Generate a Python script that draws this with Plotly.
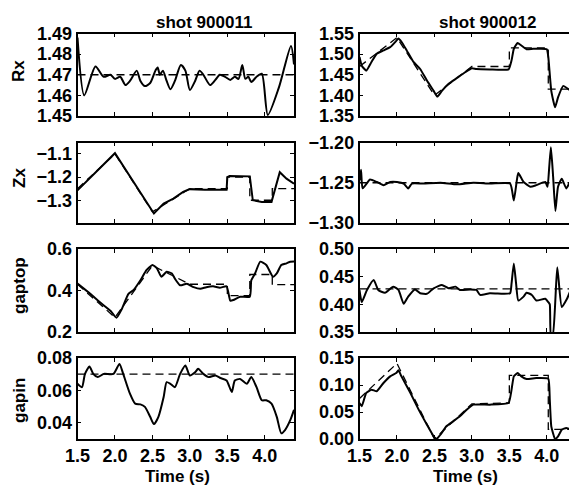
import plotly.graph_objects as go

# ---------------- shot 900011 ----------------
t_rx_a = [1.50, 1.59, 1.74, 1.85, 1.94, 2.00, 2.07, 2.14, 2.20, 2.29, 2.34, 2.40, 2.47, 2.54, 2.57, 2.60,
          2.64, 2.69, 2.74, 2.80, 2.88, 2.94, 3.00, 3.07, 3.13, 3.18, 3.27, 3.34, 3.40, 3.47, 3.54, 3.60,
          3.65, 3.70, 3.74, 3.78, 3.82, 3.89, 3.96, 4.04, 4.19, 4.35, 4.39]
rx_a = [1.488, 1.460, 1.474, 1.469, 1.470, 1.468, 1.469, 1.465, 1.467, 1.472, 1.467, 1.4645, 1.466, 1.472,
        1.4735, 1.470, 1.472, 1.467, 1.463, 1.467, 1.4747, 1.472, 1.4626, 1.467, 1.472, 1.470, 1.465, 1.4675,
        1.470, 1.469, 1.4675, 1.469, 1.468, 1.4747, 1.468, 1.469, 1.4665, 1.469, 1.4705, 1.4505, 1.464, 1.484,
        1.475]
t_rxref_a = [1.5, 4.39]
rxref_a = [1.47, 1.47]

t_zx_a = [1.50, 2.00, 2.52, 2.65, 2.78, 2.91, 3.00, 3.20, 3.49, 3.50, 3.53, 3.80, 3.84, 3.96, 4.09, 4.20,
          4.29, 4.39]
zx_a = [-1.257, -1.097, -1.357, -1.314, -1.293, -1.264, -1.252, -1.255, -1.255, -1.200, -1.195, -1.197,
        -1.300, -1.307, -1.307, -1.179, -1.207, -1.229]
t_zxref_a = [1.5, 2.0, 2.5, 3.0, 3.5, 3.5, 3.8, 3.8, 4.1, 4.1, 4.39]
zxref_a = [-1.25, -1.10, -1.35, -1.25, -1.25, -1.20, -1.20, -1.30, -1.30, -1.25, -1.25]

t_gt_a = [1.50, 1.67, 1.80, 1.94, 2.02, 2.09, 2.18, 2.25, 2.34, 2.42, 2.50, 2.56, 2.62, 2.69, 2.76, 2.80,
          2.87, 2.96, 3.05, 3.14, 3.22, 3.31, 3.40, 3.49, 3.54, 3.58, 3.67, 3.80, 3.82, 3.87, 3.94, 4.02,
          4.11, 4.16, 4.22, 4.29, 4.34, 4.39]
gt_a = [0.433, 0.384, 0.343, 0.302, 0.269, 0.310, 0.384, 0.403, 0.449, 0.498, 0.523, 0.507, 0.466, 0.490,
        0.482, 0.457, 0.425, 0.433, 0.416, 0.408, 0.416, 0.420, 0.413, 0.420, 0.351, 0.354, 0.370, 0.370,
        0.449, 0.482, 0.539, 0.523, 0.466, 0.482, 0.523, 0.531, 0.539, 0.540]
t_gtref_a = [1.5, 2.0, 2.5, 3.0, 3.5, 3.5, 3.8, 3.8, 4.1, 4.1, 4.39]
gtref_a = [0.43, 0.27, 0.52, 0.43, 0.43, 0.375, 0.375, 0.477, 0.477, 0.428, 0.428]

t_gi_a = [1.50, 1.56, 1.60, 1.66, 1.71, 1.77, 1.85, 1.98, 2.06, 2.11, 2.20, 2.27, 2.34, 2.40, 2.47, 2.52,
          2.58, 2.65, 2.69, 2.74, 2.80, 2.87, 2.94, 3.00, 3.07, 3.11, 3.18, 3.25, 3.34, 3.40, 3.49, 3.56,
          3.60, 3.67, 3.76, 3.82, 3.89, 3.96, 4.02, 4.09, 4.16, 4.22, 4.27, 4.34, 4.39]
gi_a = [0.0641, 0.0620, 0.0702, 0.0747, 0.0702, 0.0682, 0.0702, 0.0702, 0.0763, 0.0702, 0.0580, 0.0518,
        0.0514, 0.0498, 0.0437, 0.0392, 0.0437, 0.0559, 0.0651, 0.0641, 0.0620, 0.0702, 0.0753, 0.0692,
        0.0712, 0.0733, 0.0702, 0.0682, 0.0692, 0.0678, 0.0661, 0.0590, 0.0661, 0.0671, 0.0641, 0.0682,
        0.0620, 0.0539, 0.0539, 0.0518, 0.0437, 0.0335, 0.0355, 0.0416, 0.048]
t_giref_a = [1.5, 4.39]
giref_a = [0.07, 0.07]

# ---------------- shot 900012 ----------------
t_rx_b = [1.50, 1.53, 1.59, 1.66, 1.73, 1.82, 1.91, 1.99, 2.02, 2.06, 2.13, 2.22, 2.31, 2.40, 2.49, 2.54,
          2.60, 2.69, 2.80, 2.91, 3.00, 3.06, 3.24, 3.49, 3.53, 3.56, 3.61, 3.66, 3.73, 3.82, 4.00, 4.02,
          4.06, 4.11, 4.15, 4.22, 4.29, 4.35, 4.39]
rx_b = [1.493, 1.472, 1.460, 1.481, 1.501, 1.509, 1.517, 1.532, 1.538, 1.530, 1.509, 1.481, 1.464, 1.436,
        1.411, 1.397, 1.411, 1.428, 1.442, 1.456, 1.466, 1.464, 1.463, 1.463, 1.485, 1.513, 1.527, 1.521,
        1.512, 1.513, 1.512, 1.493, 1.411, 1.371, 1.395, 1.423, 1.415, 1.407, 1.411]
t_rxref_b = [1.5, 2.0, 2.5, 3.0, 3.5, 3.5, 4.02, 4.02, 4.39]
rxref_b = [1.47, 1.54, 1.40, 1.47, 1.47, 1.515, 1.515, 1.415, 1.415]

t_zx_b = [1.50, 1.52, 1.54, 1.58, 1.64, 1.73, 1.82, 1.91, 2.00, 2.09, 2.15, 2.20, 2.35, 2.58, 2.80, 3.02,
          3.24, 3.51, 3.56, 3.60, 3.62, 3.69, 3.78, 3.86, 3.98, 4.01, 4.03, 4.055, 4.085, 4.115, 4.15,
          4.20, 4.26, 4.31, 4.36, 4.39]
zx_b = [-1.247, -1.234, -1.257, -1.253, -1.246, -1.249, -1.253, -1.249, -1.249, -1.251, -1.257, -1.251,
        -1.251, -1.250, -1.252, -1.250, -1.251, -1.251, -1.272, -1.247, -1.238, -1.249, -1.255, -1.253,
        -1.249, -1.255, -1.234, -1.206, -1.243, -1.285, -1.255, -1.245, -1.257, -1.249, -1.243, -1.247]
t_zxref_b = [1.5, 4.39]
zxref_b = [-1.25, -1.25]

t_gt_b = [1.50, 1.53, 1.60, 1.69, 1.75, 1.84, 1.95, 2.02, 2.09, 2.15, 2.24, 2.31, 2.40, 2.49, 2.60, 2.69,
          2.78, 2.84, 2.98, 3.06, 3.11, 3.24, 3.42, 3.51, 3.53, 3.56, 3.59, 3.62, 3.69, 3.73, 3.80, 3.86,
          3.98, 4.02, 4.04, 4.055, 4.08, 4.14, 4.20, 4.27, 4.33, 4.39]
gt_b = [0.426, 0.404, 0.426, 0.444, 0.426, 0.421, 0.432, 0.426, 0.401, 0.414, 0.427, 0.420, 0.419, 0.429,
        0.435, 0.429, 0.432, 0.426, 0.427, 0.426, 0.417, 0.420, 0.419, 0.420, 0.438, 0.474, 0.438, 0.407,
        0.414, 0.421, 0.417, 0.407, 0.410, 0.404, 0.400, 0.345, 0.345, 0.467, 0.395, 0.410, 0.428, 0.432]
t_gtref_b = [1.5, 4.39]
gtref_b = [0.428, 0.428]

t_gi_b = [1.50, 1.53, 1.59, 1.66, 1.73, 1.82, 1.91, 1.99, 2.02, 2.06, 2.18, 2.29, 2.40, 2.49, 2.53, 2.58,
          2.66, 2.75, 2.84, 2.93, 3.02, 3.24, 3.49, 3.53, 3.56, 3.61, 3.66, 3.73, 3.86, 4.02, 4.04, 4.06,
          4.11, 4.15, 4.20, 4.26, 4.33, 4.39]
gi_b = [0.0667, 0.0605, 0.0852, 0.0914, 0.0883, 0.1037, 0.116, 0.1222, 0.1272, 0.116, 0.0852, 0.0543,
        0.0265, 0.0049, 0.0, 0.008, 0.0235, 0.0327, 0.042, 0.0543, 0.0636, 0.0636, 0.0667, 0.0914, 0.116,
        0.1222, 0.116, 0.1111, 0.113, 0.1117, 0.0728, 0.0235, 0.0, 0.0049, 0.0173, 0.0204, 0.0173, 0.0185]
t_giref_b = [1.5, 2.0, 2.5, 3.0, 3.5, 3.5, 4.02, 4.02, 4.39]
giref_b = [0.075, 0.14, 0.0, 0.065, 0.067, 0.118, 0.118, 0.018, 0.018]

# ---------------- labels / ticks ----------------
shots = ["shot 900011", "shot 900012"]
ylabels = ["Rx", "Zx", "gaptop", "gapin"]
xtickvals = [1.5, 2.0, 2.5, 3.0, 3.5, 4.0]
xlabel = "Time (s)"

yticks_a = [[1.45, 1.46, 1.47, 1.48, 1.49], [-1.3, -1.2, -1.1], [0.2, 0.4, 0.6], [0.04, 0.06, 0.08]]
yticks_b = [[1.35, 1.40, 1.45, 1.50, 1.55], [-1.30, -1.25, -1.20], [0.35, 0.40, 0.45, 0.50],
            [0.00, 0.05, 0.10, 0.15]]
yranges_a = [[1.45, 1.49], [-1.398, -1.051], [0.2, 0.6], [0.03, 0.08]]
yranges_b = [[1.35, 1.55], [-1.30, -1.20], [0.35, 0.50], [0.0, 0.15]]
ydec_a = [2, 1, 1, 2]
ydec_b = [2, 2, 2, 2]
# line smoothing per panel (0 = straight segments)
smooth_a = [0.7, 0.0, 0.5, 0.6]
smooth_b = [0.4, 0.5, 0.5, 0.4]


def bold_labels(vals, dec):
    out = []
    for v in vals:
        s = f"{v:.{dec}f}".replace("-", "\u2212")
        out.append("<b>" + s + "</b>")
    return out


W, H = 577, 488
OFF = 8.0  # page body margin of the browser; layout measured in window pixels
FONT = "Liberation Sans"

col_px = [(77.5, 294.0), (359.5, 576.0)]
row_px = [(33.5, 116.0), (142.5, 223.0), (249.0, 332.0), (358.0, 439.0)]


def px_x(p):
    return (p - OFF) / W


def px_y(p):
    return 1 - (p - OFF) / H


signals = [
    [(t_rx_a, rx_a, t_rxref_a, rxref_a), (t_zx_a, zx_a, t_zxref_a, zxref_a),
     (t_gt_a, gt_a, t_gtref_a, gtref_a), (t_gi_a, gi_a, t_giref_a, giref_a)],
    [(t_rx_b, rx_b, t_rxref_b, rxref_b), (t_zx_b, zx_b, t_zxref_b, zxref_b),
     (t_gt_b, gt_b, t_gtref_b, gtref_b), (t_gi_b, gi_b, t_giref_b, giref_b)],
]

fig = go.Figure()
layout = {}
n = 0
for c in range(2):
    for r in range(4):
        n += 1
        xa = "x" if n == 1 else f"x{n}"
        ya = "y" if n == 1 else f"y{n}"
        ts, vs, tr, vr = signals[c][r]
        sm = (smooth_a if c == 0 else smooth_b)[r]
        fig.add_trace(go.Scatter(x=tr, y=vr, mode="lines", xaxis=xa, yaxis=ya,
                                 line=dict(color="black", width=1.3, dash="8px,5px"),
                                 showlegend=False, hoverinfo="skip"))
        if sm > 0:
            sline = dict(color="black", width=2.0, shape="spline", smoothing=sm)
        else:
            sline = dict(color="black", width=2.0, shape="linear")
        fig.add_trace(go.Scatter(x=ts, y=vs, mode="lines", xaxis=xa, yaxis=ya, line=sline,
                                 showlegend=False, hoverinfo="skip"))
        x0, x1 = col_px[c]
        y0, y1 = row_px[r]
        common = dict(showline=True, linecolor="black", linewidth=1.5, mirror="allticks",
                      ticks="inside", ticklen=4, tickwidth=1.2, tickcolor="black",
                      showgrid=False, zeroline=False, automargin=False,
                      tickfont=dict(family=FONT, size=18, color="black"))
        layout["xaxis" if n == 1 else f"xaxis{n}"] = dict(
            domain=[px_x(x0), px_x(x1)], range=[1.5, 4.39], anchor=ya,
            tickmode="array", tickvals=xtickvals, ticktext=bold_labels(xtickvals, 1),
            showticklabels=(r == 3), **common)
        yt = (yticks_a if c == 0 else yticks_b)[r]
        layout["yaxis" if n == 1 else f"yaxis{n}"] = dict(
            domain=[px_y(y1), px_y(y0)], anchor=xa,
            range=(yranges_a if c == 0 else yranges_b)[r],
            tickmode="array", tickvals=yt,
            ticktext=bold_labels(yt, (ydec_a if c == 0 else ydec_b)[r]), **common)

ann = []
title_x = [204, 487]
for c in range(2):
    ann.append(dict(text="<b>" + shots[c] + "</b>", x=px_x(title_x[c]), y=px_y(23), xref="paper",
                    yref="paper", showarrow=False, xanchor="center", yanchor="middle",
                    font=dict(family=FONT, size=17, color="black")))
xlab_x = [177, 465]
for c in range(2):
    ann.append(dict(text="<b>" + xlabel + "</b>", x=px_x(xlab_x[c]), y=px_y(476), xref="paper",
                    yref="paper", showarrow=False, xanchor="center", yanchor="middle",
                    font=dict(family=FONT, size=17, color="black")))
ylab_y = [71, 178, 286, 401]
for r in range(4):
    ann.append(dict(text="<b>" + ylabels[r] + "</b>", x=px_x(19), y=px_y(ylab_y[r]), xref="paper",
                    yref="paper", showarrow=False, xanchor="center", yanchor="middle", textangle=-90,
                    font=dict(family=FONT, size=17, color="black")))

fig.update_layout(width=W, height=H, margin=dict(l=0, r=0, t=0, b=0, autoexpand=False),
                  paper_bgcolor="white", plot_bgcolor="white", annotations=ann,
                  showlegend=False, **layout)
fig.write_html("out.html")
